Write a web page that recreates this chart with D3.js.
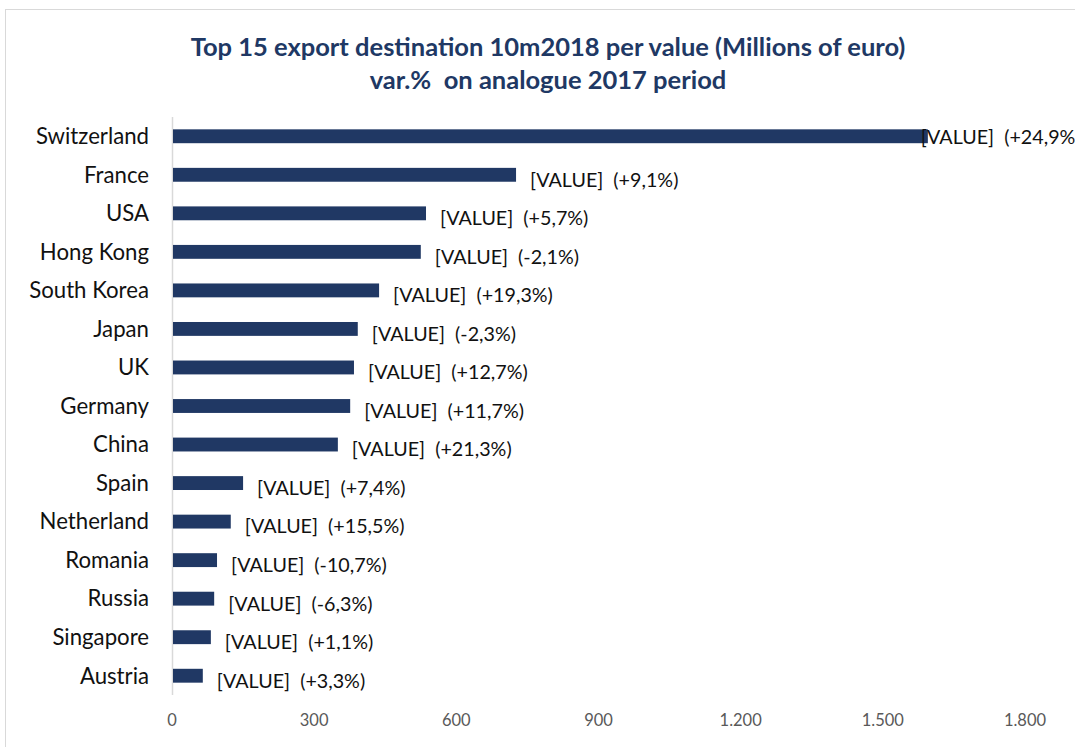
<!DOCTYPE html>
<html>
<head>
<meta charset="utf-8">
<script src="https://cdn.jsdelivr.net/npm/d3@7"></script>
<style>
    body { margin: 0; background: #fff; }
    svg { display: block; font-family: Lato, "Open Sans", sans-serif; }
    text { white-space: pre; }
</style>
</head>
<body>
<svg id="chart"></svg>
<script>
const countries = ["Switzerland", "France", "USA", "Hong Kong", "South Korea", "Japan", "UK",
    "Germany", "China", "Spain", "Netherland", "Romania", "Russia", "Singapore", "Austria"];
const values = [1595, 726, 536, 525, 437, 392, 384, 376, 350, 150, 124, 95, 89, 82, 65];
const changes = ["+24,9%", "+9,1%", "+5,7%", "-2,1%", "+19,3%", "-2,3%", "+12,7%",
    "+11,7%", "+21,3%", "+7,4%", "+15,5%", "-10,7%", "-6,3%", "+1,1%", "+3,3%"];
const xTicks = [0, 300, 600, 900, 1200, 1500, 1800];
const titleLines = ["Top 15 export destination 10m2018 per value (Millions of euro)",
    "var.%  on analogue 2017 period"];

const width = 1075, height = 747;
const margin = { top: 117, right: 50, bottom: 52, left: 172 };

const svg = d3.select("#chart").attr("width", width).attr("height", height);

// chart frame
svg.append("rect")
    .attr("x", 5.5).attr("y", 9.5)
    .attr("width", width + 10).attr("height", height + 10)
    .attr("fill", "none").attr("stroke", "#d9d9d9");

svg.selectAll(".title")
    .data(titleLines)
    .join("text")
    .attr("class", "title")
    .attr("x", 548)
    .attr("y", (d, i) => 56 + i * 33)
    .attr("text-anchor", "middle")
    .attr("font-size", 25.5)
    .attr("font-weight", "bold")
    .attr("fill", "#203864")
    .text(d => d);

const x = d3.scaleLinear().domain([0, 1800]).range([margin.left, 1025]);
const y = d3.scaleBand().domain(countries)
    .range([margin.top, height - margin.bottom])
    .paddingInner(0.64).paddingOuter(0.32);

// vertical axis line
svg.append("line")
    .attr("x1", x(0) + 0.5).attr("x2", x(0) + 0.5)
    .attr("y1", margin.top).attr("y2", height - margin.bottom)
    .attr("stroke", "#d9d9d9").attr("stroke-width", 1.5);

svg.selectAll(".bar")
    .data(countries)
    .join("rect")
    .attr("class", "bar")
    .attr("x", x(0) + 1)
    .attr("y", d => y(d))
    .attr("width", (d, i) => x(values[i]) - x(0) - 1)
    .attr("height", y.bandwidth())
    .attr("fill", "#203864");

svg.selectAll(".cat")
    .data(countries)
    .join("text")
    .attr("class", "cat")
    .attr("x", x(0) - 23)
    .attr("y", d => y(d) + y.bandwidth() / 2)
    .attr("dy", "0.35em")
    .attr("text-anchor", "end")
    .attr("font-size", 22.2)
    .attr("fill", "#111")
    .text(d => d);

svg.selectAll(".lbl")
    .data(countries)
    .join("text")
    .attr("class", "lbl")
    .attr("x", (d, i) => x(values[i]) + 14)
    .attr("y", d => y(d) + y.bandwidth() / 2 + 5)
    .attr("dy", "0.35em")
    .attr("font-size", 19.7)
    .attr("fill", "#111")
    .text((d, i) => i === 0 ? "[VALUE]  (" + changes[i] : "[VALUE]  (" + changes[i] + ")")
    .each(function (d, i) {
        // label that runs past the plot is pulled back over the bar end
        const w = this.getComputedTextLength();
        if (x(values[i]) + 14 + w > width) {
            d3.select(this).attr("x", x(values[i]) - 7).attr("y", y(d) + y.bandwidth() / 2 + 1);
        }
    });

svg.selectAll(".tick")
    .data(xTicks)
    .join("text")
    .attr("class", "tick")
    .attr("x", d => x(d))
    .attr("y", 726)
    .attr("text-anchor", "middle")
    .attr("font-size", 16.5)
    .attr("fill", "#595959")
    .text(d => d3.format(",")(d).replace(",", "."));
</script>
</body>
</html>
